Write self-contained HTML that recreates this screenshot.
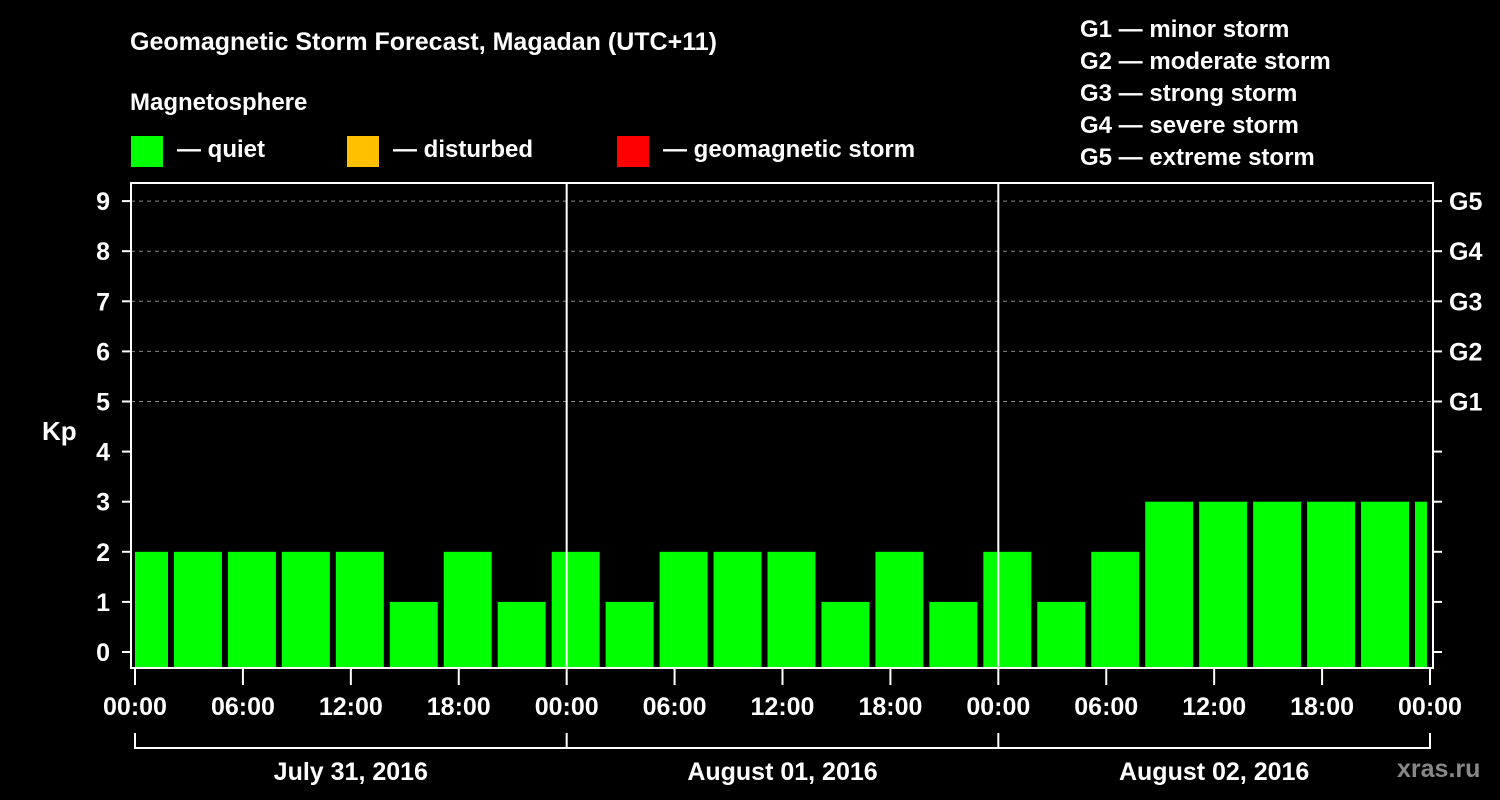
<!DOCTYPE html>
<html><head><meta charset="utf-8"><style>
html,body{margin:0;padding:0;background:#000;}
svg{display:block;font-family:"Liberation Sans",Arial,sans-serif;font-weight:bold;}
</style></head><body>
<svg id="chart" width="1500" height="800" viewBox="0 0 1500 800">
<text x="130" y="50" fill="#fff" font-size="25">Geomagnetic Storm Forecast, Magadan (UTC+11)</text>
<text x="130" y="110" fill="#fff" font-size="24">Magnetosphere</text>
<g><rect x="131" y="136" width="32" height="31" fill="#00ff00"/><text x="177" y="157" fill="#fff" font-size="24">— quiet</text></g>
<g><rect x="347" y="136" width="32" height="31" fill="#ffc000"/><text x="393" y="157" fill="#fff" font-size="24">— disturbed</text></g>
<g><rect x="617" y="136" width="32" height="31" fill="#ff0000"/><text x="663" y="157" fill="#fff" font-size="24">— geomagnetic storm</text></g>
<g fill="#fff" font-size="24">
<text x="1080" y="37">G1 — minor storm</text>
<text x="1080" y="69">G2 — moderate storm</text>
<text x="1080" y="101">G3 — strong storm</text>
<text x="1080" y="133">G4 — severe storm</text>
<text x="1080" y="165">G5 — extreme storm</text>
</g>
<text x="42" y="440" fill="#fff" font-size="26">Kp</text>
<text x="1397" y="777" fill="#888" font-size="25">xras.ru</text>
<g id="plot"></g>
</svg>
<script>
const kpValues=[2,2,2,2,2,1,2,1,2,1,2,2,2,1,2,1,2,1,2,3,3,3,3,3,3];
const yTicks=[0,1,2,3,4,5,6,7,8,9];
const gLabels=["G1","G2","G3","G4","G5"];
const gLevels=[5,6,7,8,9];
const timeLabels=["00:00","06:00","12:00","18:00","00:00","06:00","12:00","18:00","00:00","06:00","12:00","18:00","00:00"];
const dateLabels=["July 31, 2016","August 01, 2016","August 02, 2016"];
const NS="http://www.w3.org/2000/svg";
const g=document.getElementById('plot');
const X0=135,PXH=(1430-135)/72;
const xs=h=>X0+h*PXH;
const ys=v=>652-v*50.1;
function mk(t,a){const e=document.createElementNS(NS,t);for(const k in a)e.setAttribute(k,a[k]);g.appendChild(e);return e;}
// grid
gLevels.forEach(v=>{const e=mk('line',{x1:131,x2:1433,y1:ys(v),y2:ys(v),stroke:'#888','stroke-dasharray':'4,4','stroke-width':1});

});
// bars
kpValues.forEach((v,i)=>{const s=i===0?0:2+3*(i-1);const e=Math.min(72,i===0?2:s+3);
const x1=xs(s)+(i===0?0:3),x2=xs(e)-3;
const r=mk('rect',{x:x1,y:ys(v),width:Math.max(0,x2-x1),height:668-ys(v),fill:v>=5?'#ff0000':(v>=4?'#ffc000':'#00ff00')});

});
// day separators
[24,48].forEach(h=>{const e=mk('line',{x1:xs(h),x2:xs(h),y1:183,y2:668,stroke:'#fff','stroke-width':2});

});
// frame
const fr=mk('rect',{x:131,y:183,width:1302,height:485,fill:'none',stroke:'#fff','stroke-width':2});


// y ticks
yTicks.forEach(v=>{mk('line',{x1:122,x2:131,y1:ys(v),y2:ys(v),stroke:'#fff','stroke-width':2});
mk('line',{x1:1433,x2:1442,y1:ys(v),y2:ys(v),stroke:'#fff','stroke-width':2});
const t=mk('text',{x:110,y:ys(v)+9,fill:'#fff','font-size':25,'text-anchor':'end'});t.textContent=v;

});
gLabels.forEach((l,i)=>{const t=mk('text',{x:1449,y:ys(gLevels[i])+9,fill:'#fff','font-size':25});t.textContent=l;

});
// x ticks
timeLabels.forEach((l,i)=>{const x=xs(i*6);mk('line',{x1:x,x2:x,y1:668,y2:685,stroke:'#fff','stroke-width':2});
const t=mk('text',{x:x,y:715,fill:'#fff','font-size':25,'text-anchor':'middle'});t.textContent=l;

});
// date bracket
mk('line',{x1:xs(0),x2:xs(72),y1:748,y2:748,stroke:'#fff','stroke-width':2});
[0,24,48,72].forEach(h=>mk('line',{x1:xs(h),x2:xs(h),y1:733,y2:749,stroke:'#fff','stroke-width':2}));
dateLabels.forEach((l,i)=>{const t=mk('text',{x:xs(i*24+12),y:780,fill:'#fff','font-size':25,'text-anchor':'middle'});t.textContent=l;

});
</script>
</body></html>
